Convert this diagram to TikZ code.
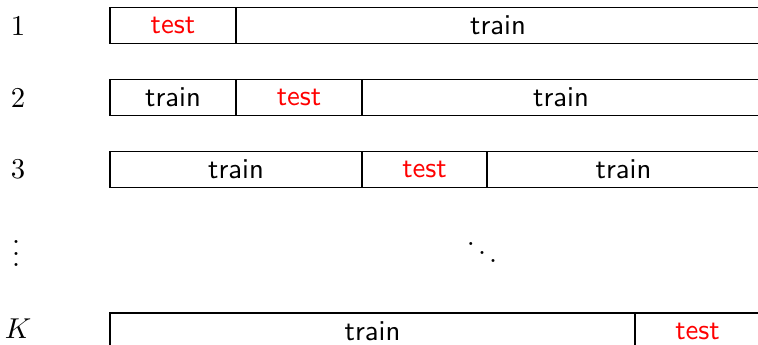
\documentclass[tikz,border=0pt]{standalone}
\begin{document}
% one unit = 0.348pt; boxes are 36 units tall
\tikzset{
  seg/.style={draw, inner sep=0pt, outer sep=0pt, font=\sffamily,
    line width=0.4pt, minimum height=12.528pt},
  testseg/.style={seg, text=red},
  rowlabel/.style={inner sep=0pt}
}
\begin{tikzpicture}[x=0.348pt,y=-0.348pt]
  \useasboundingbox (0,0) rectangle (758,345);
  \clip (0,0) rectangle (758,345);
  % fold 1
  \node[rowlabel] (l1) at (18,25.5) {1};
  \node[testseg, minimum width=43.848pt] (f1a) at (173,25.5) {test};
  \node[seg, minimum width=182.352pt] (f1b) at (498,25.5) {train};
  % fold 2
  \node[rowlabel] (l2) at (18,97.5) {2};
  \node[seg, minimum width=43.848pt] (f2a) at (173,97.5) {train};
  \node[testseg, minimum width=43.848pt] (f2b) at (299,97.5) {test};
  \node[seg, minimum width=138.504pt] (f2c) at (561,97.5) {train};
  % fold 3
  \node[rowlabel] (l3) at (18,169.5) {3};
  \node[seg, minimum width=87.696pt] (f3a) at (236,169.5) {train};
  \node[testseg, minimum width=43.5pt] (f3b) at (424.5,169.5) {test};
  \node[seg, minimum width=95.004pt] (f3c) at (623.5,169.5) {train};
  % ellipsis
  \node[rowlabel] (lv) at (16,245) {$\vdots$};
  \node[rowlabel] (dd) at (482,244) {$\ddots$};
  % fold K
  \node[rowlabel] (lK) at (18,329) {$K$};
  \node[seg, minimum width=182.7pt] (fKa) at (372.5,331) {train};
  \node[testseg, minimum width=43.5pt] (fKb) at (697.5,331) {test};
\end{tikzpicture}
\end{document}
